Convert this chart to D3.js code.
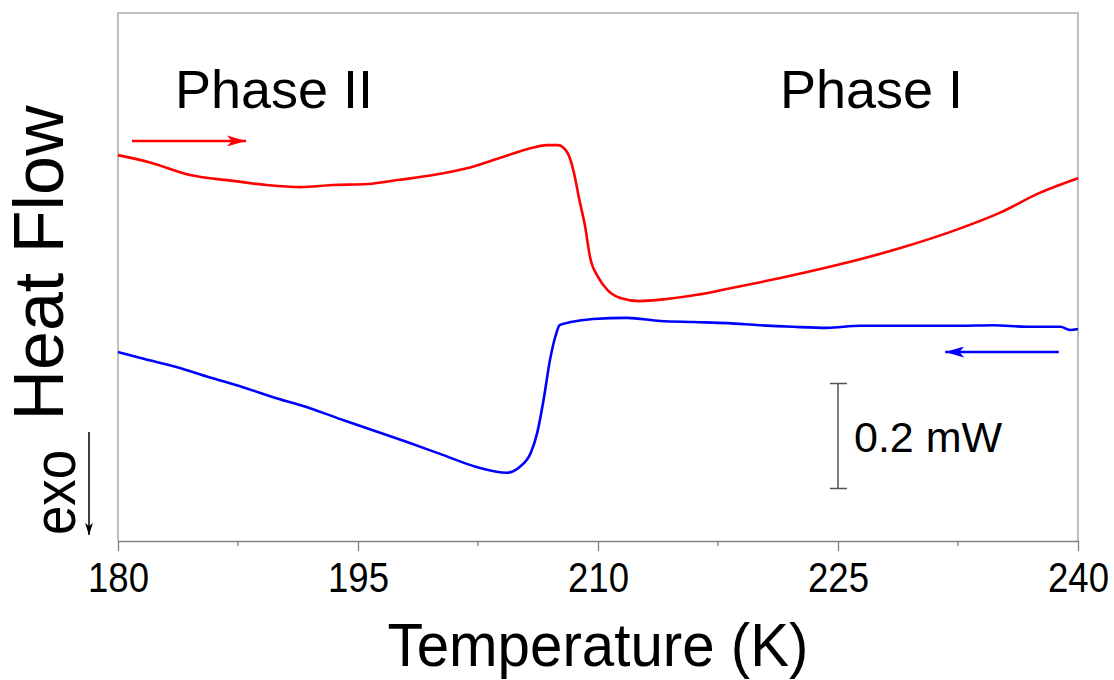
<!DOCTYPE html>
<html>
<head>
<meta charset="utf-8">
<script src="https://cdn.jsdelivr.net/npm/d3@7"></script>
<style>
  body { margin: 0; background: #fff; }
  svg { display: block; font-family: "Liberation Sans", Arial, sans-serif; }
</style>
</head>
<body>
<svg id="chart" width="1114" height="680"></svg>
<script>
// heating run (red), temperature in K, heat flow in mW (arbitrary offset)
const heatT = [180, 182, 184.5, 187.2, 189.3, 191.4, 193.4, 195.6, 197.6, 199.7, 201.8, 203.9, 205.9, 206.8, 207.5, 208.1, 208.5, 208.8, 209.2, 209.5, 210, 210.6, 211.4, 212.6, 214.3, 216.2, 218.2, 220.3, 221.4, 225, 228.9, 232.6, 235.1, 237.6, 240];
const heatQ = [0.735, 0.721, 0.697, 0.686, 0.678, 0.674, 0.678, 0.680, 0.688, 0.697, 0.710, 0.730, 0.749, 0.754, 0.754, 0.739, 0.701, 0.655, 0.598, 0.541, 0.503, 0.478, 0.463, 0.457, 0.461, 0.469, 0.481, 0.494, 0.501, 0.526, 0.558, 0.595, 0.625, 0.663, 0.691];

// cooling run (blue)
const coolT = [180, 181.6, 183.7, 185.7, 187.8, 189.9, 192, 194.1, 196.2, 198.2, 200.3, 202.4, 204.3, 205.1, 205.8, 206.2, 206.6, 207, 207.4, 207.6, 208.3, 209.7, 211.8, 213.9, 216, 218.1, 220.1, 222.2, 224.3, 226.4, 228.4, 230.6, 232.6, 234.7, 236.8, 238.9, 239.5, 240];
const coolQ = [0.360, 0.347, 0.331, 0.312, 0.293, 0.272, 0.253, 0.230, 0.208, 0.187, 0.164, 0.141, 0.130, 0.141, 0.168, 0.206, 0.269, 0.345, 0.396, 0.411, 0.417, 0.423, 0.425, 0.419, 0.417, 0.415, 0.411, 0.408, 0.406, 0.410, 0.410, 0.410, 0.410, 0.411, 0.408, 0.408, 0.402, 0.404];

const majorTicks = [180, 195, 210, 225, 240];
const minorTicks = [187.5, 202.5, 217.5, 232.5];

// scale bar of 0.2 mW at 225 K, arrows showing scan direction
const scaleBar = { T: 225, from: 0.1, to: 0.3, label: '0.2 mW' };
const heatArrow = { from: 180.875, to: 188, q: 0.762 };
const coolArrow = { from: 238.8, to: 231.7, q: 0.36 };

const svg = d3.select('#chart');
const plotLeft = 118, plotRight = 1078, plotTop = 13, plotBottom = 541;

const x = d3.scaleLinear().domain([180, 240]).range([plotLeft, plotRight]);
const y = d3.scaleLinear().domain([0, 1]).range([plotBottom, plotBottom - 525]);

const defs = svg.append('defs');
function head(id, color, w, h) {
    defs.append('marker')
        .attr('id', id)
        .attr('viewBox', `0 0 ${w} ${h}`)
        .attr('refX', w).attr('refY', h / 2)
        .attr('markerWidth', w).attr('markerHeight', h)
        .attr('markerUnits', 'userSpaceOnUse')
        .attr('orient', 'auto')
        .append('path')
        .attr('d', `M0,0L${w},${h / 2}L0,${h}L${w * 0.25},${h / 2}Z`)
        .attr('fill', color);
}
head('redHead', '#ff0000', 19, 11);
head('blueHead', '#0000ff', 19, 11);
head('blackHead', '#000', 12, 8);

// frame
svg.append('path')
    .attr('d', `M${plotLeft},${plotBottom}V${plotTop}H${plotRight}V${plotBottom}`)
    .attr('fill', 'none')
    .attr('stroke', '#c0c0c0')
    .attr('stroke-width', 2);

// x axis
const xAxis = svg.append('g')
    .attr('transform', `translate(0,${plotBottom})`)
    .call(d3.axisBottom(x).tickValues(majorTicks).tickSize(10).tickSizeOuter(0).tickFormat(d3.format('d')));
xAxis.select('.domain').attr('stroke', '#808080').attr('stroke-width', 1.5);
xAxis.selectAll('.tick line').attr('stroke', '#808080').attr('stroke-width', 1.3);
xAxis.selectAll('.tick text')
    .attr('y', 51).attr('dy', 0)
    .attr('font-size', 43)
    .attr('font-family', '"Liberation Sans", Arial, sans-serif')
    .attr('fill', '#000')
    .attr('transform', 'scale(0.85,1)');

svg.append('g').selectAll('line')
    .data(minorTicks)
    .join('line')
    .attr('x1', d => x(d)).attr('x2', d => x(d))
    .attr('y1', plotBottom).attr('y2', plotBottom + 5)
    .attr('stroke', '#808080').attr('stroke-width', 1.3);

// curves
const line = d3.line()
    .x(d => x(d[0]))
    .y(d => y(d[1]))
    .curve(d3.curveMonotoneX);

svg.append('path')
    .datum(heatT.map((t, i) => [t, heatQ[i]]))
    .attr('d', line)
    .attr('fill', 'none')
    .attr('stroke', '#ff0000')
    .attr('stroke-width', 2.6);

svg.append('path')
    .datum(coolT.map((t, i) => [t, coolQ[i]]))
    .attr('d', line)
    .attr('fill', 'none')
    .attr('stroke', '#0000ff')
    .attr('stroke-width', 2.6);

// direction arrows
svg.append('line')
    .attr('x1', x(heatArrow.from)).attr('x2', x(heatArrow.to))
    .attr('y1', y(heatArrow.q)).attr('y2', y(heatArrow.q))
    .attr('stroke', '#ff0000').attr('stroke-width', 2.5)
    .attr('marker-end', 'url(#redHead)');

svg.append('line')
    .attr('x1', x(coolArrow.from)).attr('x2', x(coolArrow.to))
    .attr('y1', y(coolArrow.q)).attr('y2', y(coolArrow.q))
    .attr('stroke', '#0000ff').attr('stroke-width', 2.5)
    .attr('marker-end', 'url(#blueHead)');

// scale bar
const sb = svg.append('g').attr('stroke', '#555').attr('stroke-width', 1.5);
sb.append('line')
    .attr('x1', x(scaleBar.T)).attr('x2', x(scaleBar.T))
    .attr('y1', y(scaleBar.from)).attr('y2', y(scaleBar.to));
[scaleBar.from, scaleBar.to].forEach(v => {
    sb.append('line')
        .attr('x1', x(scaleBar.T) - 8).attr('x2', x(scaleBar.T) + 9)
        .attr('y1', y(v)).attr('y2', y(v));
});
svg.append('text')
    .attr('x', x(scaleBar.T) + 16).attr('y', 452)
    .attr('font-size', 43)
    .text(scaleBar.label);

// phase labels
svg.append('text').attr('x', 175).attr('y', 108).attr('font-size', 54).text('Phase II');
svg.append('text').attr('x', 780).attr('y', 108).attr('font-size', 54).text('Phase I');

// axis titles
svg.append('text')
    .attr('text-anchor', 'middle')
    .attr('transform', 'translate(598,666) scale(0.94,1)')
    .attr('font-size', 62)
    .text('Temperature (K)');

svg.append('text')
    .attr('text-anchor', 'middle')
    .attr('transform', 'translate(63,263) rotate(-90)')
    .attr('font-size', 70)
    .text('Heat Flow');

svg.append('text')
    .attr('text-anchor', 'start')
    .attr('transform', 'translate(75,535) rotate(-90) scale(0.88,1)')
    .attr('font-size', 60)
    .text('exo');

svg.append('line')
    .attr('x1', 89).attr('x2', 89)
    .attr('y1', 432).attr('y2', 535)
    .attr('stroke', '#000').attr('stroke-width', 1.5)
    .attr('marker-end', 'url(#blackHead)');
</script>
</body>
</html>
